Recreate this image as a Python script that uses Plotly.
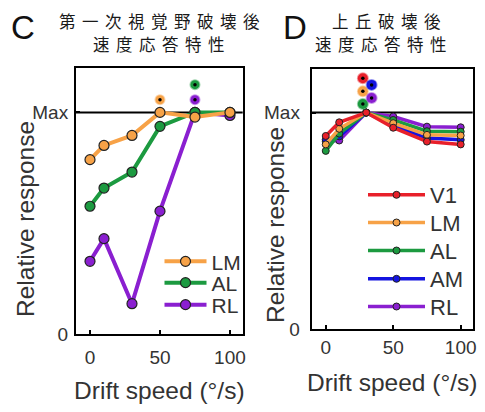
import plotly.graph_objects as go

# ---------------- data ----------------
speeds = [0, 10, 30, 50, 75, 100]

# Panel C (after V1 lesion)
c_names = ["LM", "AL", "RL"]
c_lm = [0.787, 0.851, 0.896, 1.0, 0.979, 1.0]
c_al = [0.577, 0.659, 0.731, 0.937, 1.0, 1.0]
c_rl = [0.329, 0.431, 0.138, 0.555, 1.0, 0.986]
c_peak_x = [50, 75, 75]
c_peak_y = [1.057, 1.125, 1.057]

# Panel D (after SC lesion)
d_names = ["V1", "LM", "AL", "AM", "RL"]
d_v1 = [0.892, 0.955, 1.0, 0.930, 0.866, 0.853]
d_lm = [0.853, 0.925, 1.0, 0.951, 0.897, 0.894]
d_al = [0.823, 0.903, 1.0, 0.966, 0.914, 0.912]
d_am = [0.875, 0.890, 1.0, 0.940, 0.882, 0.874]
d_rl = [0.868, 0.871, 1.0, 0.982, 0.935, 0.932]
d_peak_x = [27.5, 27.5, 27.5, 34, 34]
d_peak_y = [1.159, 1.098, 1.040, 1.128, 1.067]

x_tickvals = [0, 50, 100]
x_ticktext = ["0", "50", "100"]
y_tickvals = [0, 1]
y_ticktext = ["0", "Max"]

title_c = ["第一次視覚野破壊後", "速度応答特性"]
title_d = ["上丘破壊後", "速度応答特性"]
x_title = "Drift speed (°/s)"
y_title = "Relative response"

colors = {"V1": "#e8202a", "LM": "#f7a247", "AL": "#1c9a40",
          "AM": "#1414e0", "RL": "#8a1fd0"}
glow = {"V1": "rgba(232,32,42,0.45)", "LM": "rgba(247,162,71,0.45)",
        "AL": "rgba(28,154,64,0.45)", "AM": "rgba(20,20,224,0.45)",
        "RL": "rgba(138,31,208,0.45)"}

FONT = "Liberation Sans, Arial, sans-serif"
CJK = "Noto Sans CJK JP"

# page has an 8px body margin: figure is sized so it fits in the 485x412 window
OFF = 8
W, H = 485 - 2 * OFF, 412 - 2 * OFF


def px(x):
    return (x - OFF) / W


def py(y):
    return 1 - (y - OFF) / H


fig = go.Figure()

# ---------------- panel C ----------------
c_series = {"LM": c_lm, "AL": c_al, "RL": c_rl}
c_legend_rows = {"LM": 261.7, "AL": 283.0, "RL": 305.0}
c_legend_ids = {"LM": "legend", "AL": "legend2", "RL": "legend3"}
for name in ["RL", "AL", "LM"]:
    fig.add_trace(go.Scatter(
        x=speeds, y=c_series[name], mode="lines+markers", name=name,
        line=dict(color=colors[name], width=4),
        marker=dict(size=10, color=colors[name], line=dict(color="#222", width=1.2)),
        xaxis="x", yaxis="y", legend=c_legend_ids[name]))
for i, name in enumerate(c_names):
    fig.add_trace(go.Scatter(
        x=[c_peak_x[i]], y=[c_peak_y[i]], mode="markers", showlegend=False,
        marker=dict(size=9, color=colors[name], line=dict(color=glow[name], width=2)),
        xaxis="x", yaxis="y", hoverinfo="skip"))
    fig.add_trace(go.Scatter(
        x=[c_peak_x[i]], y=[c_peak_y[i]], mode="markers", showlegend=False,
        marker=dict(size=3.5, color="black"),
        xaxis="x", yaxis="y", hoverinfo="skip"))

# ---------------- panel D ----------------
d_series = {"V1": d_v1, "LM": d_lm, "AL": d_al, "AM": d_am, "RL": d_rl}
d_legend_rows = {"V1": 195.0, "LM": 222.7, "AL": 250.7, "AM": 279.0, "RL": 306.7}
d_legend_ids = {"V1": "legend4", "LM": "legend5", "AL": "legend6",
                "AM": "legend7", "RL": "legend8"}
for name in ["RL", "AM", "AL", "LM", "V1"]:
    fig.add_trace(go.Scatter(
        x=speeds, y=d_series[name], mode="lines+markers", name=name,
        line=dict(color=colors[name], width=3.5),
        marker=dict(size=7, color=colors[name], line=dict(color="#222", width=1)),
        xaxis="x2", yaxis="y2", legend=d_legend_ids[name]))
for i, name in enumerate(d_names):
    fig.add_trace(go.Scatter(
        x=[d_peak_x[i]], y=[d_peak_y[i]], mode="markers", showlegend=False,
        marker=dict(size=10, color=colors[name], line=dict(color=glow[name], width=2)),
        xaxis="x2", yaxis="y2", hoverinfo="skip"))
    fig.add_trace(go.Scatter(
        x=[d_peak_x[i]], y=[d_peak_y[i]], mode="markers", showlegend=False,
        marker=dict(size=3.5, color="black"),
        xaxis="x2", yaxis="y2", hoverinfo="skip"))

# ---------------- axes ----------------
axis_common = dict(showline=True, mirror=True, linecolor="black", linewidth=2,
                   ticks="inside", ticklen=4, tickwidth=2, tickcolor="black",
                   showgrid=False, zeroline=False, automargin=False,
                   tickfont=dict(family=FONT, size=19, color="#333"))
xt_font = dict(family=FONT, size=24.5, color="#333")

fig.update_layout(
    xaxis=dict(domain=[px(76), px(242.7)], range=[-10, 109.1], anchor="y",
               tickvals=x_tickvals, ticktext=x_ticktext, ticklabelstandoff=5,
               title=dict(text=x_title, font=xt_font, standoff=18),
               **axis_common),
    yaxis=dict(domain=[py(334.3), py(68)], range=[0, 1.2], anchor="x",
               tickvals=y_tickvals, ticktext=y_ticktext, ticklabelstandoff=2,
               **axis_common),
    xaxis2=dict(domain=[px(311.7), px(472.7)], range=[-10.4, 108.9], anchor="y2",
                tickvals=x_tickvals, ticktext=x_ticktext, ticklabelstandoff=0,
                title=dict(text=x_title, font=xt_font, standoff=17),
                **axis_common),
    yaxis2=dict(domain=[py(329), py(69.3)], range=[0, 1.2], anchor="x2",
                tickvals=y_tickvals, ticktext=y_ticktext, ticklabelstandoff=6,
                **axis_common),
)

# Max reference lines
for xr, yr in [("x domain", "y"), ("x2 domain", "y2")]:
    fig.add_shape(type="line", xref=xr, yref=yr, x0=0, x1=1, y0=1, y1=1,
                  line=dict(color="black", width=2), layer="below")

# ---------------- legends ----------------
def legend_cfg(left_px, row_px, size, iw):
    return dict(x=px(left_px), y=py(row_px), xanchor="left", yanchor="middle",
                bgcolor="rgba(0,0,0,0)", borderwidth=0, itemwidth=iw,
                font=dict(family=FONT, size=size, color="#333"))

legend_layout = {}
for name in c_names:
    legend_layout[c_legend_ids[name]] = legend_cfg(159.5, c_legend_rows[name], 21, 42)
for name in d_names:
    legend_layout[d_legend_ids[name]] = legend_cfg(363, d_legend_rows[name], 22, 57)
fig.update_layout(**legend_layout)

# ---------------- titles / labels ----------------
ann = []
ann.append(dict(text="C", x=px(23), y=py(27), showarrow=False,
                font=dict(family=FONT, size=33, color="#111")))
ann.append(dict(text="D", x=px(295), y=py(27), showarrow=False,
                font=dict(family=FONT, size=33, color="#111")))
for t, cx, cy in [(title_c[0], 162, 20.5), (title_c[1], 162, 44.5),
                  (title_d[0], 389, 20.5), (title_d[1], 384, 44.5)]:
    ann.append(dict(text=f'<span style="letter-spacing:6.5px">{t}</span>',
                    x=px(cx), y=py(cy), showarrow=False,
                    font=dict(family=CJK, size=16.5, color="#1a1a1a")))
for cx, cy in [(25, 219), (275, 225)]:
    ann.append(dict(text=y_title, x=px(cx), y=py(cy), textangle=-90,
                    showarrow=False, font=dict(family=FONT, size=24.5, color="#333")))
for a in ann:
    a.update(xref="paper", yref="paper", xanchor="center", yanchor="middle")

fig.update_layout(
    annotations=ann,
    width=W, height=H,
    margin=dict(l=0, r=0, t=0, b=0),
    paper_bgcolor="white", plot_bgcolor="white",
    showlegend=True,
)

fig.write_html("out.html")
